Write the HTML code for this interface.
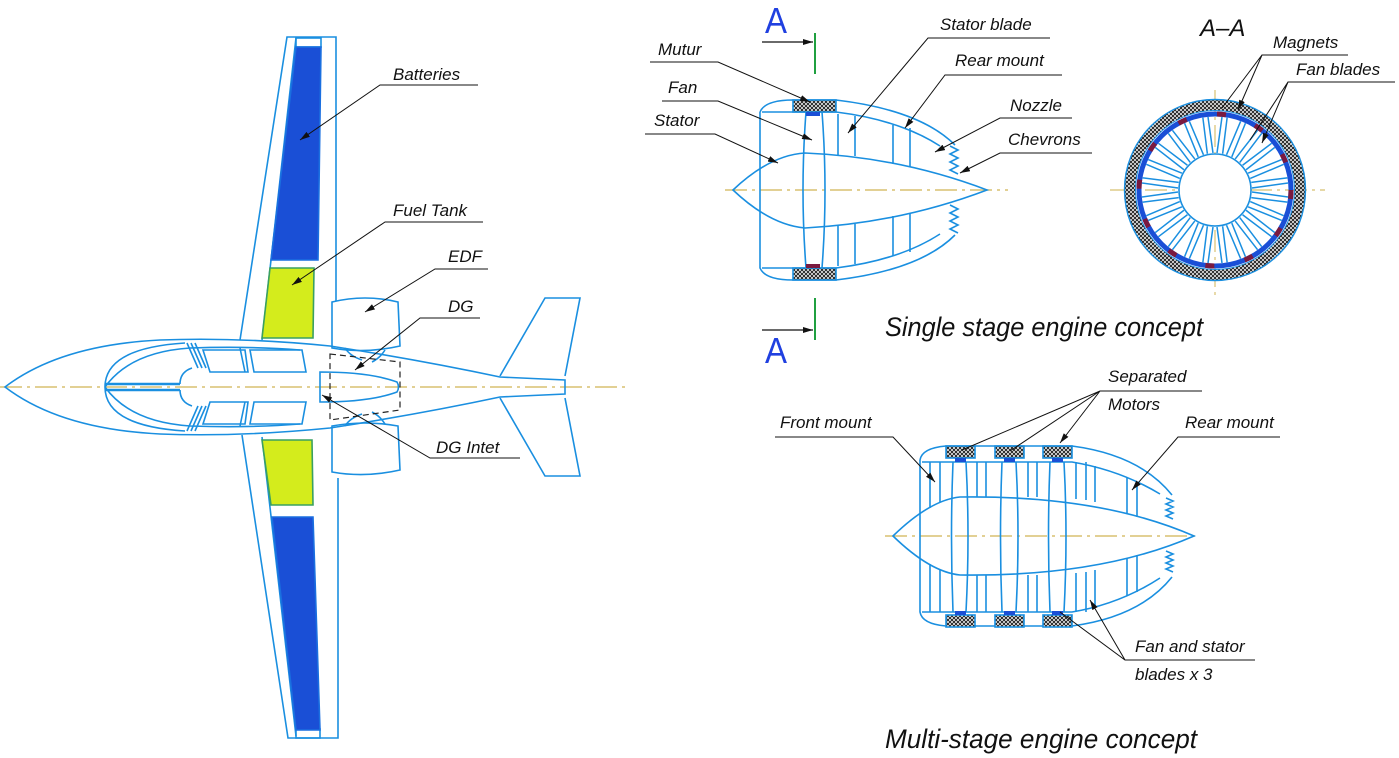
<!DOCTYPE html>
<html><head><meta charset="utf-8"><style>
html,body{margin:0;padding:0;background:#fff;}
svg{display:block;}
text{font-family:"Liberation Sans",sans-serif;font-style:italic;fill:#111;}
</style></head><body>
<svg width="1399" height="758" viewBox="0 0 1399 758" xmlns="http://www.w3.org/2000/svg">
<defs>
<pattern id="h" width="4" height="4" patternUnits="userSpaceOnUse">
<rect width="4" height="4" fill="#fff"/><path d="M0 0L4 4M4 0L0 4" stroke="#222" stroke-width="1"/>
</pattern>
<marker id="a" viewBox="0 0 10 6" refX="10" refY="3" markerWidth="10" markerHeight="6" orient="auto" markerUnits="userSpaceOnUse"><path d="M0 0L10 3L0 6z" fill="#111"/></marker>
</defs>
<g fill="none" stroke="#1a8fe0" stroke-width="1.6">
<line x1="0" y1="387" x2="625" y2="387" stroke="#d8c070" stroke-dasharray="22 5 3 5" stroke-width="1.4"/>
<path d="M240 340 L287 37 L336 37 L336 340"/>
<path d="M262 340 L296 38"/>
<rect x="296" y="38" width="25" height="9"/>
<polygon points="296,47 321,47 318,260 271,260" fill="#1a4fd6" stroke="#1a6fe0"/>
<polygon points="270,268 314,268 313,338 262,338" fill="#d4ec1c" stroke="#3aa060"/>
<path d="M242 435 L288 738 L338 738 L338 478"/>
<path d="M262 437 L296 736"/>
<rect x="296" y="729" width="24" height="9"/>
<polygon points="272,517 313,517 320,730 296,730" fill="#1a4fd6" stroke="#1a6fe0"/>
<polygon points="262,440 312,440 313,505 271,505" fill="#d4ec1c" stroke="#3aa060"/>
<path d="M332 302 Q365 294 398 302 L400 346 Q365 354 332 348 Z" fill="#fff"/>
<path d="M332 426 Q365 420 398 426 L400 470 Q365 478 332 472 Z" fill="#fff"/>
<path d="M345 348 Q350 356 362 360 M385 350 Q380 358 372 362 M345 426 Q350 418 362 414 M385 424 Q380 416 372 412"/>
<path d="M5 387 Q60 345 160 340 Q240 337 330 346 Q420 360 500 377 L565 380 L565 394 L500 397 Q420 414 330 428 Q240 437 160 434 Q60 429 5 387 Z" fill="none"/>
<path d="M105 387 Q105 348 185 343 M105 387 Q105 426 185 431"/>
<path d="M105 387 Q130 352 190 348 Q250 346 300 350 M105 387 Q130 422 190 426 Q250 428 300 424"/>
<path d="M105 384 L180 384 M105 390 L180 390" stroke-width="2.4"/>
<path d="M180 384 Q180 372 192 368 M180 390 Q180 402 192 406"/>
<path d="M187 343 L198 368 M191 343 L202 368 M195 343 L206 368"/>
<path d="M187 431 L198 406 M191 431 L202 406 M195 431 L206 406"/>
<path d="M203 350 L245 350 L248 372 L210 372 Z M250 350 L302 350 L306 372 L254 372 Z"/>
<path d="M203 424 L245 424 L248 402 L210 402 Z M250 424 L302 424 L306 402 L254 402 Z"/>
<path d="M240 348 L245 372 M240 426 L245 402"/>
<path d="M330 354 L400 362 L400 410 L330 420 Z" stroke="#222" stroke-dasharray="6 4" stroke-width="1.2"/>
<path d="M320 372 Q370 372 397 382 Q400 387 397 392 Q370 402 320 402 Z"/>
<path d="M500 376 L545 298 L580 298 L565 376 M500 398 L545 476 L580 476 L565 398"/>
</g>

<g fill="none" stroke="#1a8fe0" stroke-width="1.6">
<line x1="725" y1="190" x2="1008" y2="190" stroke="#d8c070" stroke-dasharray="22 5 3 5" stroke-width="1.4"/>
<path d="M733 190 Q770 155 805 153 Q900 157 987 190 Q900 223 805 228 Q770 225 733 190 Z"/>
<path d="M760 112 Q765 100 793 100 L836 100 Q920 110 955 145 M760 112 L760 268 Q765 280 793 280 L836 280 Q920 270 955 235"/>
<path d="M762 112 L836 112 Q900 120 940 146 M762 268 L836 268 Q900 260 940 234"/>
<path d="M806 112 Q800 190 806 268 M822 112 Q828 190 822 268"/>
<path d="M838 114 L838 155 M855 116 L855 156 M893 125 L893 164 M910 128 L910 167 M838 266 L838 226 M855 264 L855 224 M893 256 L893 216 M910 252 L910 213"/>
<path d="M950 146 l8 4 -8 4 8 4 -8 4 8 4 -8 4 8 4 M950 205 l8 4 -8 4 8 4 -8 4 8 4 -8 4 8 4"/>
<rect x="793" y="100" width="43" height="12" fill="url(#h)" stroke="#1a8fe0"/>
<rect x="793" y="268" width="43" height="12" fill="url(#h)" stroke="#1a8fe0"/>
<rect x="806" y="112" width="14" height="4" fill="#1a4fd6" stroke="none"/>
<rect x="806" y="264" width="14" height="4" fill="#7a1a40" stroke="none"/>
</g>
<line x1="815" y1="33" x2="815" y2="74" stroke="#20a040" stroke-width="2"/>
<line x1="815" y1="298" x2="815" y2="340" stroke="#20a040" stroke-width="2"/>
<line x1="762" y1="42" x2="813" y2="42" stroke="#111" stroke-width="1.2" marker-end="url(#a)"/>
<line x1="762" y1="330" x2="813" y2="330" stroke="#111" stroke-width="1.2" marker-end="url(#a)"/>
<text x="765" y="33" font-size="36" style="fill:#2040e0;font-style:normal" textLength="22" lengthAdjust="spacingAndGlyphs">A</text>
<text x="765" y="363" font-size="36" style="fill:#2040e0;font-style:normal" textLength="22" lengthAdjust="spacingAndGlyphs">A</text>

<g transform="translate(1215,190)">
<line x1="-105" y1="0" x2="110" y2="0" stroke="#d8c070" stroke-width="1.2" stroke-dasharray="22 5 3 5"/>
<line x1="0" y1="-100" x2="0" y2="110" stroke="#d8c070" stroke-width="1.2" stroke-dasharray="22 5 3 5"/>
<circle r="85" fill="none" stroke="url(#h)" stroke-width="11"/>
<circle r="90.5" fill="none" stroke="#1a8fe0" stroke-width="1.4"/>
<circle r="79.5" fill="none" stroke="#1a8fe0" stroke-width="1"/>
<circle r="76" fill="none" stroke="#1a4fd6" stroke-width="5"/>
<circle r="76" fill="none" stroke="#7a1a40" stroke-width="5" stroke-dasharray="9 31"/>
<circle r="36" fill="#fff" stroke="#1a8fe0" stroke-width="1.6"/>
<g stroke="#1a8fe0" stroke-width="1.5" fill="none">
<path id="bl" d="M-2 -37 L-7 -73 M2 -37 L7 -73"/>
<use href="#bl" transform="rotate(15)"/><use href="#bl" transform="rotate(30)"/><use href="#bl" transform="rotate(45)"/><use href="#bl" transform="rotate(60)"/><use href="#bl" transform="rotate(75)"/><use href="#bl" transform="rotate(90)"/><use href="#bl" transform="rotate(105)"/><use href="#bl" transform="rotate(120)"/><use href="#bl" transform="rotate(135)"/><use href="#bl" transform="rotate(150)"/><use href="#bl" transform="rotate(165)"/><use href="#bl" transform="rotate(180)"/><use href="#bl" transform="rotate(195)"/><use href="#bl" transform="rotate(210)"/><use href="#bl" transform="rotate(225)"/><use href="#bl" transform="rotate(240)"/><use href="#bl" transform="rotate(255)"/><use href="#bl" transform="rotate(270)"/><use href="#bl" transform="rotate(285)"/><use href="#bl" transform="rotate(300)"/><use href="#bl" transform="rotate(315)"/><use href="#bl" transform="rotate(330)"/><use href="#bl" transform="rotate(345)"/>
</g>
</g>

<g fill="none" stroke="#1a8fe0" stroke-width="1.6">
<line x1="885" y1="536" x2="1195" y2="536" stroke="#d8c070" stroke-dasharray="22 5 3 5" stroke-width="1.4"/>
<path d="M893 536 Q930 500 960 497 Q1100 495 1194 536 Q1100 577 960 575 Q930 572 893 536 Z"/>
<path d="M920 460 Q922 448 946 446 L1072 446 Q1140 455 1172 495 M920 460 L920 612 Q922 624 946 626 L1072 626 Q1140 617 1172 577"/>
<path d="M922 462 L1072 462 Q1120 470 1160 494 M922 612 L1072 612 Q1120 604 1160 578"/>
<path d="M953 462 Q950 536 953 612 M966 462 Q970 536 966 612 M1002 462 Q999 536 1002 612 M1016 462 Q1020 536 1016 612 M1050 462 Q1047 536 1050 612 M1064 462 Q1068 536 1064 612"/>
<path d="M930 462 V508 M940 462 V502 M977 462 V497 M986 462 V497 M1028 462 V497 M1037 462 V497 M1076 462 V499 M1086 462 V500 M1095 466 V502 M1127 478 V514 M1137 482 V517 M930 612 V564 M940 612 V570 M977 612 V575 M986 612 V575 M1028 612 V575 M1037 612 V575 M1076 612 V573 M1086 612 V572 M1095 608 V570 M1127 596 V558 M1137 592 V555"/>
<path d="M1166 498 l7 3 -7 3 7 3 -7 3 7 3 -7 3 7 3 M1166 551 l7 3 -7 3 7 3 -7 3 7 3 -7 3 7 3"/>
<rect x="946" y="446" width="29" height="12" fill="url(#h)"/>
<rect x="995" y="446" width="29" height="12" fill="url(#h)"/>
<rect x="1043" y="446" width="29" height="12" fill="url(#h)"/>
<rect x="946" y="615" width="29" height="12" fill="url(#h)"/>
<rect x="995" y="615" width="29" height="12" fill="url(#h)"/>
<rect x="1043" y="615" width="29" height="12" fill="url(#h)"/>
<g fill="#1a4fd6" stroke="none"><rect x="955" y="458" width="11" height="4"/><rect x="1004" y="458" width="11" height="4"/><rect x="1052" y="458" width="11" height="4"/><rect x="955" y="611" width="11" height="4"/><rect x="1004" y="611" width="11" height="4"/><rect x="1052" y="611" width="11" height="4"/></g>
</g>

<g stroke="#111" stroke-width="1" fill="none">
<path d="M478 85 L380 85 L300 140" marker-end="url(#a)"/>
<path d="M483 222 L385 222 L292 285" marker-end="url(#a)"/>
<path d="M488 269 L435 269 L365 312" marker-end="url(#a)"/>
<path d="M480 318 L420 318 L355 370" marker-end="url(#a)"/>
<path d="M520 458 L430 458 L322 395" marker-end="url(#a)"/>
<path d="M650 62 L718 62 L810 102" marker-end="url(#a)"/>
<path d="M662 101 L718 101 L812 140" marker-end="url(#a)"/>
<path d="M645 134 L715 134 L778 163" marker-end="url(#a)"/>
<path d="M1050 38 L928 38 L848 133" marker-end="url(#a)"/>
<path d="M1062 75 L945 75 L905 128" marker-end="url(#a)"/>
<path d="M1072 118 L1000 118 L935 152" marker-end="url(#a)"/>
<path d="M1092 153 L1000 153 L960 173" marker-end="url(#a)"/>
<path d="M1348 55 L1262 55 L1222 108 M1262 55 L1238 110" marker-end="url(#a)"/>
<path d="M1395 82 L1288 82 L1250 140 M1288 82 L1262 143" marker-end="url(#a)"/>
<path d="M1202 391 L1100 391 L962 450 M1100 391 L1010 451 M1100 391 L1060 443" marker-end="url(#a)"/>
<path d="M775 437 L893 437 L935 482" marker-end="url(#a)"/>
<path d="M1280 437 L1178 437 L1132 490" marker-end="url(#a)"/>
<path d="M1255 660 L1125 660 L1060 612 M1125 660 L1090 600" marker-end="url(#a)"/>
</g>

<g font-size="17">
<text x="393" y="80">Batteries</text>
<text x="393" y="216">Fuel Tank</text>
<text x="448" y="262">EDF</text>
<text x="448" y="312">DG</text>
<text x="436" y="453">DG Intet</text>
<text x="658" y="55">Mutur</text>
<text x="668" y="93">Fan</text>
<text x="654" y="126">Stator</text>
<text x="940" y="30">Stator blade</text>
<text x="955" y="66">Rear mount</text>
<text x="1010" y="111">Nozzle</text>
<text x="1008" y="145">Chevrons</text>
<text x="1273" y="48">Magnets</text>
<text x="1296" y="75">Fan blades</text>
<text x="1108" y="382">Separated</text>
<text x="1108" y="410">Motors</text>
<text x="780" y="428">Front mount</text>
<text x="1185" y="428">Rear mount</text>
<text x="1135" y="652">Fan and stator</text>
<text x="1135" y="680">blades x 3</text>
</g>
<text x="1200" y="36" font-size="24">A–A</text>
<text x="885" y="336" font-size="27" textLength="318" lengthAdjust="spacingAndGlyphs">Single stage engine concept</text>
<text x="885" y="748" font-size="27" textLength="312" lengthAdjust="spacingAndGlyphs">Multi-stage engine concept</text>
</svg>
</body></html>
